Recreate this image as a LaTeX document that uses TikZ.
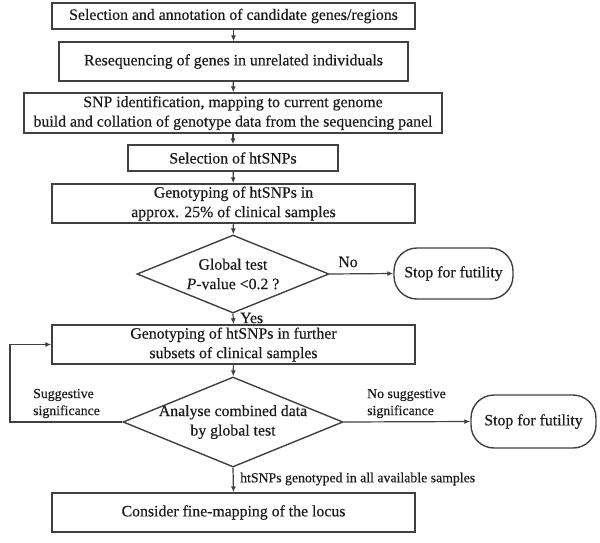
\documentclass[tikz,border=0pt]{standalone}
\usepackage{fontspec}
\setmainfont{Liberation Serif}
\newfontfamily\thk{Liberation Serif}[FakeBold=0.4]
\usetikzlibrary{shapes.geometric,arrows.meta}
\definecolor{ln}{HTML}{404040}
\definecolor{tx}{HTML}{1A1A1A}
\tikzset{
  box/.style={draw=ln, line width=1.4pt, rectangle, inner sep=0pt, text=tx, font=\thk\fontsize{15.8}{19.5}\selectfont, align=center},
  dia/.style={draw=ln, line width=1.4pt, diamond, inner sep=0pt},
  term/.style={draw=ln, line width=1.4pt, rectangle, rounded corners=23pt, inner sep=0pt, text=tx, font=\thk\fontsize{15.8}{19.5}\selectfont},
  txt/.style={text=tx, font=\thk\fontsize{15.8}{19.5}\selectfont, align=center, inner sep=0pt},
  lbl/.style={text=tx, font=\thk\fontsize{13.8}{17}\selectfont, align=left, inner sep=0pt},
  arr/.style={draw=ln, line width=1.2pt, -{Latex[length=6pt,width=5pt]}},
}
\begin{document}
\begin{tikzpicture}[x=1pt,y=-1pt]
\useasboundingbox (0,0) rectangle (600,542);
\node[box, minimum width=363pt, minimum height=26pt] (b1) at (233.5,16) {Selection and annotation of candidate genes/regions};
\node[box, minimum width=349pt, minimum height=39pt] (b2) at (233.5,61.5) {Resequencing of genes in unrelated individuals};
\node[box, minimum width=418pt, minimum height=40pt] (b3) at (233,113) {SNP identification, mapping to current genome\\build and collation of genotype data from the sequencing panel};
\node[box, minimum width=210pt, minimum height=26pt] (b4) at (233,158) {Selection of htSNPs};
\node[box, minimum width=363pt, minimum height=39pt] (b5) at (233.5,203.5) {Genotyping of htSNPs in\\approx. 25\% of clinical samples};
\node[dia, minimum width=192pt, minimum height=78pt] (d1) at (233,274) {};
\node[txt] (d1t) at (233,274) {Global test\\\textit{P}-value <0.2 ?};
\node[term, minimum width=119pt, minimum height=51pt] (s1) at (453.5,273.5) {Stop for futility};
\node[box, minimum width=363pt, minimum height=39pt] (b6) at (233.5,344.5) {Genotyping of htSNPs in further\\subsets of clinical samples};
\node[dia, minimum width=220pt, minimum height=90pt] (d2) at (233,422) {};
\node[txt] (d2t) at (233,422) {Analyse combined data\\by global test};
\node[term, minimum width=125pt, minimum height=53pt] (s2) at (533.5,421.5) {Stop for futility};
\node[box, minimum width=363pt, minimum height=39pt] (b7) at (233.5,512.5) {Consider fine-mapping of the locus};
\coordinate (fb1) at (10,422);
\coordinate (fb2) at (10,344.5);
\draw[arr] (b1) -- (b2);
\draw[arr] (b2) -- (b3);
\draw[arr] (b3) -- (b4);
\draw[arr] (b4) -- (b5);
\draw[arr] (b5) -- (d1);
\draw[arr] (d1.south) -- (b6.north);
\draw[arr] (d1.east) -- (s1.west);
\draw[arr] (b6) -- (d2);
\draw[arr] (d2.east) -- (s2.west);
\draw[arr] (d2.south) -- (b7.north);
\draw[arr] (d2.west) -- (fb1) -- (fb2) -- (b6.west);
\node[txt, anchor=west] (yes) at (240,318) {Yes};
\node[txt] (no) at (348,262) {No};
\node[lbl, anchor=west] (sug) at (33,403.5) {Suggestive\\significance};
\node[lbl, anchor=west] (nsug) at (367,403.5) {No suggestive\\significance};
\node[lbl, anchor=west] (all) at (240,479) {htSNPs genotyped in all available samples};
\end{tikzpicture}
\end{document}
